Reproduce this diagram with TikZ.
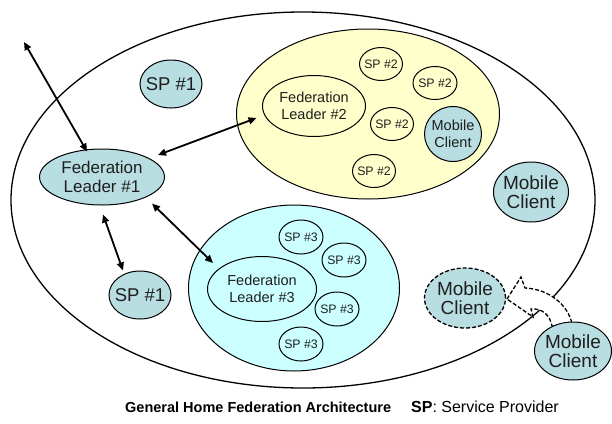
\documentclass[tikz,border=0pt]{standalone}
\usepackage{fontspec}
\setmainfont{Liberation Sans}
\usetikzlibrary{shapes.geometric,arrows.meta}

\definecolor{clientfill}{RGB}{185,222,226}
\definecolor{fedyellow}{RGB}{255,255,204}
\definecolor{fedcyan}{RGB}{204,255,255}
\definecolor{inktext}{RGB}{30,30,30}

\newcommand{\fsz}[2]{\fontsize{#1}{#2}\selectfont}

\tikzset{
  blob/.style 2 args={ellipse, draw=black, line width=1pt, inner sep=-12pt,
    minimum width=#1, minimum height=#2, align=center, text=inktext},
  client/.style={fill=clientfill},
  midtxt/.style={font=\fsz{14.5}{17.5}},
  smalltxt/.style={font=\fsz{12.3}{14}},
  dbl/.style={line width=1.8pt, {Triangle[length=8pt,width=7pt]}-{Triangle[length=8pt,width=7pt]}},
}

\begin{document}
\begin{tikzpicture}[x=1pt,y=-1pt]
\useasboundingbox (0,0) rectangle (612,423);

% home boundary
\node[ellipse, draw=black, line width=1.3pt, minimum width=584, minimum height=376] (home) at (303,200) {};

% federation regions
\node[blob={263}{170}, fill=fedyellow] (fed2) at (368,114) {};
\node[blob={211}{166}, fill=fedcyan] (fed3) at (294,288) {};

% federation 1 members
\node[blob={62}{48}, client, font=\fsz{18.5}{20}] (sp1a) at (171,84) {SP \#1};
\node[blob={125}{56}, client, font=\fsz{17}{19.5}] (fl1) at (102,177) {Federation\\Leader \#1};
\node[blob={62}{48}, client, font=\fsz{18.5}{20}] (sp1b) at (140,295) {SP \#1};

% federation 2 members
\node[blob={103}{61}, midtxt] (fl2) at (314,106) {Federation\\Leader \#2};
\node[blob={43}{33}, smalltxt] (sp2a) at (381,64) {SP \#2};
\node[blob={44}{33}, smalltxt] (sp2b) at (435,83) {SP \#2};
\node[blob={43}{33}, smalltxt] (sp2c) at (392,124) {SP \#2};
\node[blob={43}{33}, smalltxt] (sp2d) at (374,171) {SP \#2};
\node[blob={57}{55}, client, font=\fsz{14.5}{16.5}] (mc2) at (453,134) {Mobile\\Client};

% federation 3 members
\node[blob={109}{65}, midtxt] (fl3) at (262,289) {Federation\\Leader \#3};
\node[blob={44}{34}, smalltxt] (sp3a) at (301,237) {SP \#3};
\node[blob={44}{34}, smalltxt] (sp3b) at (344,260) {SP \#3};
\node[blob={44}{34}, smalltxt] (sp3c) at (337,309) {SP \#3};
\node[blob={44}{34}, smalltxt] (sp3d) at (301,344) {SP \#3};

% free mobile clients
\node[blob={75}{60}, client, font=\fsz{19}{19.5}] (mc1) at (531,192) {Mobile\\Client};
\node[blob={81}{60}, client, dashed, dash pattern=on 4pt off 2pt, line width=1.3pt, font=\fsz{19}{19.5}] (mcd) at (465,298) {Mobile\\Client};

% links between leaders and members
\coordinate (outside) at (24,42);
\draw[dbl] (outside) -- ([shift={(-15,3)}]fl1.north);
\draw[dbl] ([shift={(56,-22)}]fl1.center) -- ([shift={(-5.5,12)}]fl2.west);
\draw[dbl] ([shift={(1,9)}]fl1.south) -- ([shift={(-17,0)}]sp1b.north);
\draw[dbl] ([shift={(50,-2)}]fl1.south) -- ([shift={(-49,-26)}]fl3.center);

% client arriving from outside: curved block arrow
\draw[fill=white, line width=1.3pt, dash pattern=on 4pt off 2pt, line join=miter]
  (507,299) -- (521,277) -- (525,288)
  .. controls (548,289) and (568,304) .. (572,324)
  -- (552,326)
  .. controls (550,315) and (542,308) .. (531,309)
  -- (533,317) -- cycle;
\node[blob={77}{58}, client, font=\fsz{19}{19.5}] (mcout) at (573,351) {Mobile\\Client};

% caption
\node[anchor=base west, inner sep=0, font=\bfseries\fsz{14.5}{16}] (title) at (125,412) {General Home Federation Architecture};
\node[anchor=base west, inner sep=0, font=\fsz{16}{17}] (legend) at (411,412) {\textbf{SP}: Service Provider};
\end{tikzpicture}
\end{document}
